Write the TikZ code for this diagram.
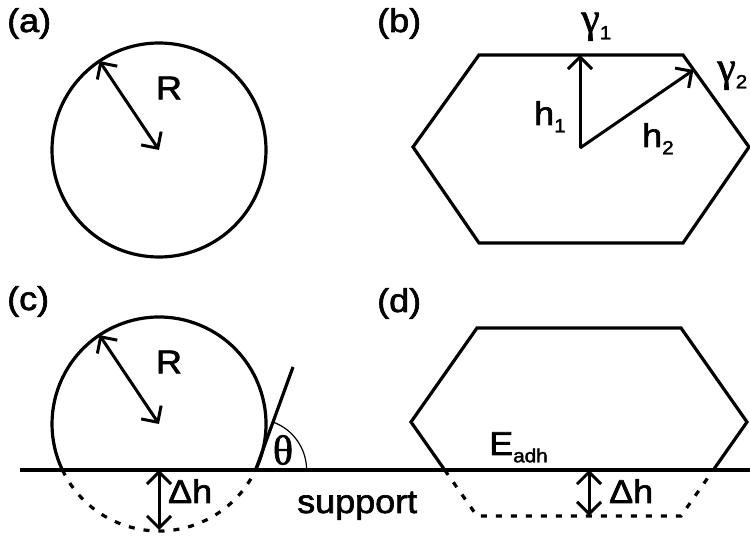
\documentclass[tikz,border=0pt]{standalone}
\usepackage{fontspec}
\setmainfont[FakeStretch=1.09,FakeBold=2]{Liberation Sans}
\newfontfamily\serifgr[FakeBold=1.5]{Liberation Serif}
\usetikzlibrary{arrows.meta,calc}
\newcommand{\mysub}[1]{\raisebox{-0.22em}{\fontsize{19}{19}\selectfont #1}}
\newcommand{\grk}[1]{{\fontsize{42}{42}\selectfont\serifgr #1}}
\begin{document}
\begin{tikzpicture}[x=1pt,y=1pt,
  outline/.style={line width=3.2pt, line join=miter},
  hidden/.style={line width=3.2pt, dash pattern=on 6pt off 9pt},
  thin/.style={line width=1.2pt},
  dimarrow/.style={line width=3pt, {Straight Barb[length=12pt,width=24pt]}-{Straight Barb[length=12pt,width=24pt]}},
  onearrow/.style={line width=3pt, -{Straight Barb[length=12pt,width=24pt]}},
  lbl/.style={inner sep=0pt, font=\fontsize{33}{36}\selectfont},
]
\useasboundingbox (0,0) rectangle (750,538);

% ---------- (a) ----------
\node[lbl, anchor=base west] (la) at (7,506) {(a)};
\coordinate (ca) at (159,388);
\draw[outline] (ca) circle[radius=107];
\coordinate (ra) at ($(ca)+(123.8:107)$);
\draw[dimarrow] (ra) -- (ca);
\node[lbl] (Ra) at (169,450) {R};

% ---------- (b) ----------
\node[lbl, anchor=base west] (lb) at (377,506) {(b)};
\coordinate (b1) at (413,391);
\coordinate (b2) at (479,483);
\coordinate (b3) at (683,483);
\coordinate (b4) at (749,391);
\coordinate (b5) at (683,295);
\coordinate (b6) at (479,295);
\draw[outline] (b1) -- (b2) -- (b3) -- (b4) -- (b5) -- (b6) -- cycle;
\coordinate (bc) at (580,390);
\coordinate (bh1) at (580,483);
\coordinate (bh2) at (693.5,468);
\draw[onearrow] (bc) -- (bh1);
\draw[onearrow] (bc) -- (bh2);
\node[lbl, anchor=base west] (h1) at (534,413) {h\mysub{1}};
\node[lbl, anchor=base west] (h2) at (642,391) {h\mysub{2}};
\node[lbl, anchor=base west] (g1) at (581,506) {\grk{γ}\mysub{1}};
\node[lbl, anchor=base west] (g2) at (717,457) {\grk{γ}\mysub{2}};

% ---------- support line ----------
\coordinate (s0) at (20,68);
\coordinate (s1) at (750,68);
\draw[outline] (s0) -- (s1);
\node[lbl, anchor=base west] (sup) at (297,25) {support};

% ---------- (c) ----------
\node[lbl, anchor=base west] (lc) at (7,228) {(c)};
\coordinate (cc) at (159,114);
\draw[outline] ($(cc)+(-25.46:107)$) arc[start angle=-25.46, end angle=205.46, radius=107];
\draw[hidden] ($(cc)+(205.46:107)$) arc[start angle=205.46, end angle=334.54, radius=107];
\coordinate (rc) at ($(cc)+(123.8:107)$);
\draw[dimarrow] (rc) -- (cc);
\node[lbl] (Rc) at (169,176) {R};
\coordinate (tc) at (255.6,68);
\coordinate (tt) at (293,171);
\draw[outline] (tc) -- (tt);
\draw[thin] ($(tc)+(51,0)$) arc[start angle=0, end angle=70, radius=51];
\node[lbl] (th) at (283,88) {\grk{θ}};
\coordinate (dc0) at (159,68);
\coordinate (dc1) at (159,8);
\draw[dimarrow] (dc0) -- (dc1);
\node[lbl, anchor=base west] (dhc) at (168,35) {Δh};

% ---------- (d) ----------
\node[lbl, anchor=base west] (ld) at (377,226) {(d)};
\coordinate (d0) at (444.7,68);
\coordinate (d1) at (411,116);
\coordinate (d2) at (477,210);
\coordinate (d3) at (681,210);
\coordinate (d4) at (747,116);
\coordinate (d5) at (713.3,68);
\coordinate (d6) at (681,22);
\coordinate (d7) at (477,22);
\draw[outline] (d0) -- (d1) -- (d2) -- (d3) -- (d4) -- (d5);
\draw[hidden] (d0) -- (d7) -- (d6) -- (d5);
\coordinate (dd0) at (589,68);
\coordinate (dd1) at (589,22);
\draw[dimarrow] (dd0) -- (dd1);
\node[lbl, anchor=base west] (dhd) at (609,35) {Δh};
\node[lbl, anchor=base west] (ead) at (489,83) {E\mysub{adh}};
\end{tikzpicture}
\end{document}
